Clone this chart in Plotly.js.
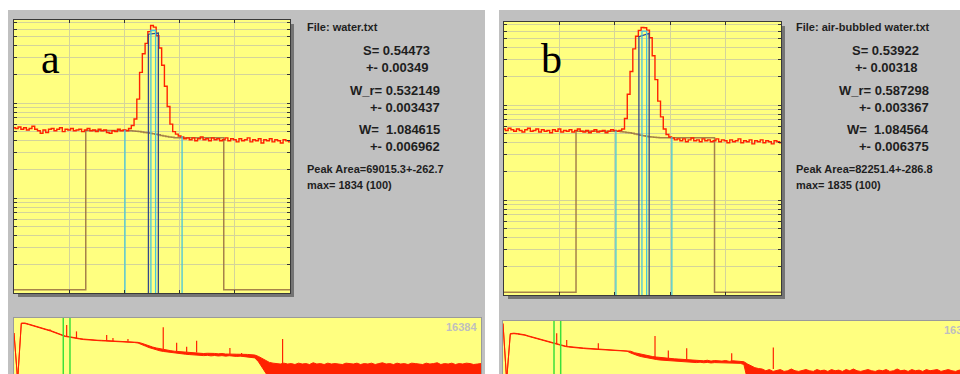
<!DOCTYPE html>
<html><head><meta charset="utf-8">
<script src="https://cdn.plot.ly/plotly-3.0.1.min.js"></script>
<style>html,body{margin:0;padding:0;background:#fff;}#chart{width:960px;height:374px;}</style>
</head><body><div id="chart"></div>
<script>
// ================= DATA =================
// Main windows: channel index 0..100 (zoomed region around the 511 keV peak), counts (log scale)
const redA = [55,54,56,53,55,52,54,57,53,51,48,52,49,53,54,51,53,55,50,53,52,54,51,52,53,50,52,54,51,52,50,53,51,52,49,48,51,50,53,51,52,
  51,54,58,68,110,210,330,425,565,655,630,510,380,250,150,92,60,50,47,45,
  44,42,43,41,43,40,42,44,41,42,40,43,41,42,40,41,43,40,42,41,39,42,40,41,43,39,41,40,42,38,41,40,42,39,41,40,38,41,40,39];
const brownA = [1.08,1.08,1.08,1.08,1.08,1.08,1.08,1.08,1.08,1.08,1.08,1.08,1.08,1.08,1.08,1.08,1.08,1.08,1.08,1.08,1.08,1.08,1.08,1.08,1.08,1.08,
  51.5,51.5,51.5,51.5,51.5,51.5,51.5,51.5,51.5,51.5,51.5,51.5,51.5,51.5,51.5,
  51.3,51,50.7,50.3,50,49.5,49,48.6,48.2,47.6,47,46.3,45.6,45,44.4,43.9,43.5,43.2,
  43,43,43,43,43,43,43,43,43,43,43,43,43,43,43,43,43,
  1.08,1.08,1.08,1.08,1.08,1.08,1.08,1.08,1.08,1.08,1.08,1.08,1.08,1.08,1.08,1.08,1.08,1.08,1.08,1.08,1.08,1.08,1.08,1.08,1.08];
const redB = [56,54,57,55,53,56,54,52,55,57,53,54,56,52,55,53,54,51,55,53,56,52,54,53,55,52,54,56,53,52,54,51,53,55,52,53,54,51,53,55,54,
  53,54,56,72,130,225,390,530,610,655,650,615,510,330,185,110,75,56,49,46,
  45,43,44,42,44,41,43,45,42,43,41,44,42,43,41,42,44,41,43,42,40,43,41,42,44,40,42,41,43,39,42,41,43,40,42,41,39,42,41,40];
const brownB = [1.07,1.07,1.07,1.07,1.07,1.07,1.07,1.07,1.07,1.07,1.07,1.07,1.07,1.07,1.07,1.07,1.07,1.07,1.07,1.07,1.07,1.07,1.07,1.07,1.07,1.07,
  53,53,53,53,53,53,53,53,53,53,53,53,53,53,53,
  52.8,52.4,52,51.5,51,50.3,49.6,48.9,48.2,47.5,46.9,46.4,46,45.7,45.5,
  45.3,45.3,45.3,45.3,45.3,45.3,45.3,45.3,45.3,45.3,45.3,45.3,45.3,45.3,45.3,45.3,45.3,45.3,45.3,45.3,
  1.07,1.07,1.07,1.07,1.07,1.07,1.07,1.07,1.07,1.07,1.07,1.07,1.07,1.07,1.07,1.07,1.07,1.07,1.07,1.07,1.07,1.07,1.07,1.07,1.07];

// Window markers (channel, top count)
const outerChA = [40.2, 60.9], outerTopA = [52, 45];
const blueChA  = [48.7, 52.3], blueTopA  = [530, 545];
const innerChA = [49.6, 51.3], innerTopA = [580, 580];
const outerChB = [40.4, 60.6], outerTopB = [54, 46];
const blueChB  = [48.7, 52.4], blueTopB  = [524, 569];
const innerChB = [49.8, 51.5], innerTopB = [600, 600];

// Full spectrum strips: one sample every 128 channels (0..16384), upper / lower edge of the noisy trace
const stripStep = 128;
const hiA = [1640,1.2,7600,7600,6500,5600,4500,3800,3300,2800,2400,1950,1550,1200,1030,950,830,780,700,650,
  610,600,570,540,530,520,510,490,480,460,450,440,425,415,390,340,270,225,190,165,
  145,130,120,108,100,95,90,86,82,78,76,74,70,73,68,71,67,70,65,68,
  64,63,66,62,61,60,56,45,33,24,18,16,15,14,16,14,
  15,13,16,14,15,13,17,14,15,13,16,14,15,14,13,16,15,14,16,13,15,14,16,13,15,17,14,15,13,16,
  14,15,13,16,15,14,13,16,14,15,17,13,15,14,16,13,15,14,16,15,13,14,15];
const loA = [1640,1.2,7000,7000,6000,5200,4200,3500,3000,2600,2200,1800,1450,1120,960,880,770,720,650,600,
  565,555,530,500,490,480,470,455,445,425,415,405,390,380,350,290,220,175,145,122,
  106,96,88,80,74,70,66,63,60,57,55,54,51,53,49,52,48,51,47,50,
  46,45,47,44,43,41,36,20,8,3,1.5,
  1.2,1.2,1.2,1.2,1.2,1.2,1.2,1.2,1.2,1.2,1.2,1.2,1.2,1.2,1.2,1.2,1.2,1.2,1.2,1.2,1.2,1.2,1.2,1.2,1.2,1.2,1.2,1.2,1.2,1.2,
  1.2,1.2,1.2,1.2,1.2,1.2,1.2,1.2,1.2,1.2,1.2,1.2,1.2,1.2,1.2,1.2,1.2,1.2,1.2,1.2,1.2,1.2,1.2,1.2,1.2,1.2,1.2,1.2];
const hiB = [7000,1.2,1500,1600,1500,1400,1250,1050,900,760,640,540,450,380,320,280,250,225,205,190,
  180,172,165,158,152,148,145,140,136,133,130,125,120,116,112,100,80,70,60,54,
  48,44,41,38,36,34,32,31,30,29,27,26,25,24,26,23,25,22,24,23,
  22,24,21,23,22,21,20,14,10,8,7,6.5,
  5,6,4.5,5.5,6,4.5,5,6.5,5,4.5,5.5,6,5,4.5,6,5,5.5,4.5,6,5,5.5,4.5,6,5,6.5,5,4.5,5.5,6,5,
  4.5,5.5,5,6,4.5,5,6.5,5,5.5,4.5,6,5,5.5,4.5,6,5,5.5,6,4.5,5,6,5,4.5,5.5,5];
const loB = [7000,1.2,1380,1480,1380,1290,1150,970,830,700,590,500,415,350,295,258,230,207,189,175,
  166,158,152,145,140,136,133,129,125,122,120,115,110,107,100,76,58,50,43,38,
  33,30,28,26,25,24,22,21,20.5,20,19,18.5,18,17.5,18.5,17,18,16.5,17.5,17,
  16.5,17.5,16,17,16.5,15.5,13,
  1.2,1.2,1.2,1.2,1.2,1.2,1.2,1.2,1.2,1.2,1.2,1.2,1.2,1.2,1.2,1.2,1.2,1.2,1.2,1.2,1.2,1.2,1.2,1.2,1.2,1.2,1.2,1.2,1.2,1.2,
  1.2,1.2,1.2,1.2,1.2,1.2,1.2,1.2,1.2,1.2,1.2,1.2,1.2,1.2,1.2,1.2,1.2,1.2,1.2,1.2,1.2,1.2,1.2,1.2,1.2,1.2,1.2,1.2,1.2,1.2];
// isolated peaks in full spectra (channel, base, top)
const spikeChA = [1263,1848,2192,3251,3472,3998,5236,5706,6057,6407,7575,7985,9423];
const spikeBaseA = [2300,1030,760,520,480,440,141,103,89,82,65,56,14];
const spikeTopA = [2900,5600,2100,1205,760,652,3900,360,200,500,164,76,652];
const spikeChB = [1883,2234,3343,5331,5798,6442,8020,9480];
const spikeBaseB = [300,210,141,41,35,30,22,6.5];
const spikeTopB = [1580,560,340,1030,110,160,72,180];
// green window markers in full spectra
const greenChA = [1729, 1964];
const greenChB = [1789, 2023];

// Text panels
const infoA = {file:'File: water.txt', S:'0.54473', dS:'0.00349', Wr:'0.532149', dWr:'0.003437', W:'1.084615', dW:'0.006962', area:'69015.3+-262.7', max:'1834 (100)'};
const infoB = {file:'File: air-bubbled water.txt', S:'0.53922', dS:'0.00318', Wr:'0.587298', dWr:'0.003367', W:'1.084564', dW:'0.006375', area:'82251.4+-286.8', max:'1835 (100)'};
const stripMaxLabel = '16384';

// ================= BUILD =================
const W = 960, H = 374;
const px = v => v / W, py = v => 1 - v / H;
const RED = '#FF2200', BROWN = '#9C7444', CYAN = '#45C6DC', BLUE = '#34488A', GREEN = '#3BE03B';
const chMain = redA.map((_, i) => i);
const traces = [];

function vlines(chs, tops, bottom) {
  const x = [], y = [];
  chs.forEach((c, i) => { x.push(c, c, null); y.push(bottom, tops[i], null); });
  return {x, y};
}
function boxTop(chs, tops, bottom) {
  return {x: [chs[0], chs[0], chs[1], chs[1]], y: [bottom, tops[0], tops[1], bottom]};
}
function mainTraces(red, brown, oCh, oTop, bCh, bTop, iCh, iTop, xa, ya) {
  traces.push({x: chMain, y: brown, mode: 'lines', line: {color: BROWN, width: 1.5, shape: 'hv'}, opacity: 0.9, xaxis: xa, yaxis: ya, hoverinfo: 'skip'});
  traces.push({x: chMain, y: red, mode: 'lines', line: {color: RED, width: 1.4, shape: 'hvh'}, xaxis: xa, yaxis: ya, hoverinfo: 'skip'});
  const o = vlines(oCh, oTop, 1);
  traces.push({x: o.x, y: o.y, mode: 'lines', line: {color: CYAN, width: 1.3}, xaxis: xa, yaxis: ya, hoverinfo: 'skip'});
  const b = boxTop(bCh, bTop, 1);
  traces.push({x: b.x, y: b.y, mode: 'lines', line: {color: BLUE, width: 1.3}, xaxis: xa, yaxis: ya, hoverinfo: 'skip'});
  const c = boxTop(iCh, iTop, 1);
  traces.push({x: c.x, y: c.y, mode: 'lines', line: {color: CYAN, width: 1.3}, xaxis: xa, yaxis: ya, hoverinfo: 'skip'});
}
mainTraces(redA, brownA, outerChA, outerTopA, blueChA, blueTopA, innerChA, innerTopA, 'x', 'y');
mainTraces(redB, brownB, outerChB, outerTopB, blueChB, blueTopB, innerChB, innerTopB, 'x2', 'y2');

function stripTraces(hi, lo, sCh, sBase, sTop, gCh, xa, ya) {
  const xh = hi.map((_, i) => i * stripStep), xl = lo.map((_, i) => i * stripStep);
  traces.push({x: xl, y: lo, mode: 'lines', line: {color: RED, width: 1}, xaxis: xa, yaxis: ya, hoverinfo: 'skip'});
  traces.push({x: xh, y: hi, mode: 'lines', fill: 'tonexty', fillcolor: RED, line: {color: RED, width: 1}, xaxis: xa, yaxis: ya, hoverinfo: 'skip'});
  const sx = [], sy = [];
  sCh.forEach((c, i) => { sx.push(c, c, null); sy.push(sBase[i], sTop[i], null); });
  traces.push({x: sx, y: sy, mode: 'lines', line: {color: RED, width: 1.2}, xaxis: xa, yaxis: ya, hoverinfo: 'skip'});
  const g = vlines(gCh, [1e6, 1e6], 0.5);
  traces.push({x: g.x, y: g.y, mode: 'lines', line: {color: GREEN, width: 1.5}, xaxis: xa, yaxis: ya, hoverinfo: 'skip'});
}
stripTraces(hiA, loA, spikeChA, spikeBaseA, spikeTopA, greenChA, 'x3', 'y3');
stripTraces(hiB, loB, spikeChB, spikeBaseB, spikeTopB, greenChB, 'x4', 'y4');

// ---- axes ----
const GRID = '#D4D49A';
function mainX(d0, d1, anchor) {
  return {domain: [px(d0), px(d1)], range: [0, 100], dtick: 20, tick0: 0, showgrid: true, gridcolor: GRID, gridwidth: 1,
    zeroline: false, showticklabels: false, ticks: 'inside', ticklen: 3, tickcolor: '#333', showline: true,
    linecolor: '#3a3a3a', linewidth: 1, mirror: 'ticks', anchor: anchor, fixedrange: true};
}
function mainY(t, b, anchor) {
  return {domain: [py(b), py(t)], type: 'log', range: [0, 2.874], dtick: 'D1', showgrid: true, gridcolor: GRID, gridwidth: 1,
    zeroline: false, showticklabels: false, ticks: 'inside', ticklen: 3, tickcolor: '#333', showline: true,
    linecolor: '#3a3a3a', linewidth: 1, mirror: 'ticks', anchor: anchor, fixedrange: true};
}
function stripX(d0, d1, r, anchor) {
  return {domain: [px(d0), Math.min(1, px(d1))], range: [0, r], showgrid: false, zeroline: false, showticklabels: false,
    ticks: '', showline: true, linecolor: '#9a9a9a', mirror: true, anchor: anchor, fixedrange: true};
}
function stripY(t, r1, anchor) {
  return {domain: [0, py(t)], type: 'log', range: [0.4814, r1], showgrid: false, zeroline: false, showticklabels: false,
    ticks: '', showline: true, linecolor: '#9a9a9a', mirror: true, anchor: anchor, fixedrange: true};
}

// ---- shapes (panels, shadows, plot backgrounds) ----
function rect(x0, y0, x1, y1, fill, lineColor) {
  return {type: 'rect', xref: 'paper', yref: 'paper', x0: px(x0), x1: px(x1), y0: py(y1), y1: py(y0),
    fillcolor: fill, line: {width: lineColor ? 1 : 0, color: lineColor || fill}, layer: 'below'};
}
const YEL = '#FFFF80';
const shapes = [
  rect(8, 10, 485, 374, '#C0C0C0'),
  rect(499, 10, 960, 374, '#C0C0C0'),
  rect(18, 24, 294, 297, '#747474'),
  rect(14, 20, 290, 293, YEL),
  rect(508, 26, 785, 299, '#747474'),
  rect(504, 22, 781, 295, YEL),
  rect(14, 318, 481, 374, YEL),
  rect(503, 321, 960, 374, YEL)
];

// ---- annotations ----
const FONT = 'Liberation Sans, Arial, Helvetica, sans-serif';
const TXT = '#1e1e1e';
const ann = [];
function txt(text, x, y, anchor, size, bold, color) {
  ann.push({text: bold ? '<b>' + text + '</b>' : text, x: px(x), y: py(y), xref: 'paper', yref: 'paper',
    xanchor: anchor, yanchor: 'middle', showarrow: false, font: {family: FONT, size: size, color: color || TXT}});
}
function infoPanel(info, dx) {
  txt(info.file, 305 + dx, 27, 'left', 11, true);
  txt('S= ' + info.S, 432 + dx, 51, 'right', 13, true);
  txt('+- ' + info.dS, 431 + dx, 67, 'right', 13, true);
  txt('W_r= ' + info.Wr, 442 + dx, 91, 'right', 13, true);
  txt('+- ' + info.dWr, 442 + dx, 107, 'right', 13, true);
  txt('W=\u00a0 ' + info.W, 442 + dx, 129, 'right', 13, true);
  txt('+- ' + info.dW, 442 + dx, 146, 'right', 13, true);
  txt('Peak Area=' + info.area, 305 + dx, 169, 'left', 11, true);
  txt('max= ' + info.max, 305 + dx, 185, 'left', 11, true);
}
infoPanel(infoA, 0);
infoPanel(infoB, 489);
txt(stripMaxLabel, 479, 327, 'right', 11, true, '#BFBFBF');
txt(stripMaxLabel, 942, 330, 'left', 11, true, '#BFBFBF');
ann.push({text: 'a', x: px(50), y: py(59), xref: 'paper', yref: 'paper', xanchor: 'center', yanchor: 'middle', showarrow: false,
  font: {family: 'Liberation Serif, Times New Roman, serif', size: 42, color: '#000'}});
ann.push({text: 'b', x: px(551), y: py(59), xref: 'paper', yref: 'paper', xanchor: 'center', yanchor: 'middle', showarrow: false,
  font: {family: 'Liberation Serif, Times New Roman, serif', size: 42, color: '#000'}});

const layout = {
  width: W, height: H, margin: {l: 0, r: 0, t: 0, b: 0, pad: 0},
  paper_bgcolor: '#FFFFFF', plot_bgcolor: 'rgba(0,0,0,0)', showlegend: false,
  xaxis: mainX(14, 290, 'y'), yaxis: mainY(20, 293, 'x'),
  xaxis2: mainX(504, 781, 'y2'), yaxis2: mainY(22, 295, 'x2'),
  xaxis3: stripX(14, 481, 16384, 'y3'), yaxis3: stripY(318, 4.2144, 'x3'),
  xaxis4: stripX(503, 960, 16027, 'y4'), yaxis4: stripY(321, 4.0147, 'x4'),
  shapes: shapes, annotations: ann, hovermode: false
};
Plotly.newPlot('chart', traces, layout, {staticPlot: true, displayModeBar: false});
</script></body></html>
